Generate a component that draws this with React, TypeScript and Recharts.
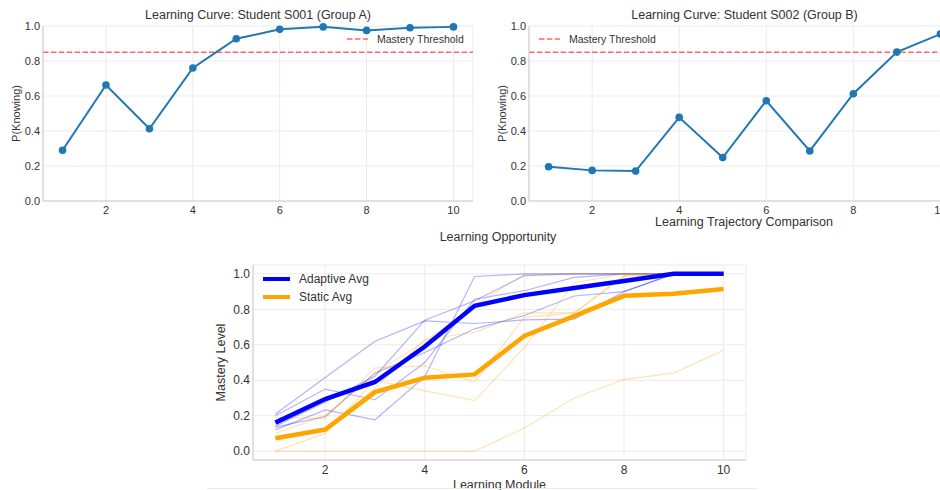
import React from "react";
import {
  LineChart,
  Line,
  XAxis,
  YAxis,
  CartesianGrid,
  ReferenceLine,
  Legend,
} from "recharts";

const FONT = '"Liberation Sans", Arial, sans-serif';
const TEXT = "#333333";
const GRID = "#ebebeb";
const FRAME = "#cccccc";
const STUDENT_BLUE = "#1f77b4";
const THRESHOLD_RED = "#ff0000";

// top panels: P(Knowing) per learning opportunity
const opportunities = [1, 2, 3, 4, 5, 6, 7, 8, 9, 10];
const s001Knowing = [0.29, 0.663, 0.413, 0.76, 0.927, 0.981, 0.995, 0.975, 0.99, 0.995];
const s002Knowing = [0.196, 0.175, 0.171, 0.478, 0.248, 0.573, 0.286, 0.613, 0.851, 0.954];
const masteryThreshold = 0.85;
const thresholdLabel = "Mastery Threshold";

const probTicks = [0, 0.2, 0.4, 0.6, 0.8, 1.0];
const stepTicks = [2, 4, 6, 8, 10];

// bottom panel: trajectory comparison
const modules = [1, 2, 3, 4, 5, 6, 7, 8, 9, 10];
const adaptiveRuns = [
  [0.21, 0.415, 0.62, 0.735, 0.72, 0.74, 0.745, 0.9, 1.0, 1.0],
  [0.12, 0.233, 0.177, 0.42, 0.985, 1.0, 1.0, 1.0, 1.0, 1.0],
  [0.2, 0.35, 0.29, 0.5, 0.857, 0.905, 0.98, 1.0, 1.0, 1.0],
  [0.135, 0.195, 0.44, 0.556, 0.69, 0.765, 0.875, 0.9, 1.0, 1.0],
  [0.14, 0.277, 0.423, 0.739, 0.848, 0.99, 1.0, 1.0, 1.0, 1.0],
];
const staticRuns = [
  [0, 0, 0, 0, 0, 0.13, 0.3, 0.405, 0.44, 0.57],
  [0.19, 0.185, 0.47, 0.48, 0.39, 0.755, 0.78, 0.99, 1.0, 1.0],
  [0, 0.1, 0.4, 0.34, 0.285, 0.585, 0.95, 1.0, 1.0, 1.0],
  [0.1, 0.2, 0.44, 0.62, 0.82, 1.0, 1.0, 1.0, 1.0, 1.0],
  [0.075, 0.125, 0.355, 0.63, 0.67, 0.78, 0.78, 0.985, 1.0, 1.0],
];
const adaptiveAvg = [0.161, 0.294, 0.39, 0.59, 0.82, 0.88, 0.92, 0.96, 1.0, 1.0];
const staticAvg = [0.073, 0.122, 0.333, 0.414, 0.433, 0.65, 0.762, 0.876, 0.888, 0.914];

const moduleRows = modules.map((m, i) => {
  const row: Record<string, number> = {
    module: m,
    adaptiveAvg: adaptiveAvg[i],
    staticAvg: staticAvg[i],
  };
  adaptiveRuns.forEach((r, k) => (row["adaptive" + k] = r[i]));
  staticRuns.forEach((r, k) => (row["static" + k] = r[i]));
  return row;
});

const fmt = (v: number) => v.toFixed(1);

function ThresholdKey() {
  return (
    <div style={{ display: "flex", alignItems: "center", fontFamily: FONT, fontSize: 10.5, color: TEXT }}>
      <svg width={22} height={6}>
        <line
          x1={0}
          x2={21}
          y1={3}
          y2={3}
          stroke={THRESHOLD_RED}
          strokeOpacity={0.6}
          strokeWidth={1.5}
          strokeDasharray="5.5 2.4"
        />
      </svg>
      <span style={{ marginLeft: 8 }}>{thresholdLabel}</span>
    </div>
  );
}

function AvgKey(props: any) {
  const items = (props.payload || []).filter((e: any) => e.type !== "none");
  return (
    <div style={{ fontFamily: FONT, fontSize: 12, color: TEXT }}>
      {items.map((e: any) => (
        <div key={e.value} style={{ display: "flex", alignItems: "center", height: 18 }}>
          <svg width={28} height={8}>
            <line x1={0} x2={27} y1={4} y2={4} stroke={e.color} strokeWidth={4} />
          </svg>
          <span style={{ marginLeft: 8 }}>{e.value}</span>
        </div>
      ))}
    </div>
  );
}

function StudentCurve({
  left,
  rightMargin,
  title,
  values,
  keyX,
}: {
  left: number;
  rightMargin: number;
  title: string;
  values: number[];
  keyX: number;
}) {
  const rows = opportunities.map((o, i) => ({ opportunity: o, pKnow: values[i] }));
  const w = 480;
  const plotLeft = 43;
  const plotW = w - rightMargin - plotLeft;
  return (
    <div style={{ position: "absolute", left, top: 0, width: w, height: 230 }}>
      <div
        style={{
          position: "absolute",
          left: plotLeft,
          width: plotW,
          top: 8,
          textAlign: "center",
          fontFamily: FONT,
          fontSize: 12.5,
          lineHeight: "15px",
          color: TEXT,
          whiteSpace: "nowrap",
        }}
      >
        {title}
      </div>
      <LineChart width={w} height={230} data={rows} margin={{ top: 26, right: rightMargin, bottom: 9, left: 10 }}>
        <CartesianGrid stroke={GRID} />
        <XAxis
          dataKey="opportunity"
          type="number"
          domain={[0.55, 10.45]}
          ticks={stepTicks}
          tickLine={false}
          tickSize={0}
          tickMargin={5}
          height={20}
          axisLine={{ stroke: FRAME }}
          tick={{ fill: TEXT, fontSize: 11, fontFamily: FONT }}
        />
        <XAxis xAxisId="frameTop" orientation="top" type="number" domain={[0.55, 10.45]} height={0} tick={false} tickLine={false} axisLine={{ stroke: FRAME }} />
        <YAxis
          type="number"
          domain={[0, 1]}
          ticks={probTicks}
          tickFormatter={fmt}
          tickLine={false}
          tickSize={0}
          tickMargin={3}
          width={33}
          axisLine={{ stroke: FRAME }}
          tick={{ fill: TEXT, fontSize: 11, fontFamily: FONT }}
          label={{
            value: "P(Knowing)",
            angle: -90,
            position: "insideLeft",
            offset: 6,
            style: { textAnchor: "middle", fill: TEXT, fontSize: 11, fontFamily: FONT },
          }}
        />
        <YAxis yAxisId="frameRight" orientation="right" domain={[0, 1]} width={0} tick={false} tickLine={false} axisLine={{ stroke: FRAME }} />
        <ReferenceLine
          y={masteryThreshold}
          stroke={THRESHOLD_RED}
          strokeOpacity={0.6}
          strokeWidth={1.5}
          strokeDasharray="5.5 2.4"
        />
        <Line
          dataKey="pKnow"
          stroke={STUDENT_BLUE}
          strokeWidth={2}
          dot={{ r: 3.8, fill: STUDENT_BLUE, stroke: STUDENT_BLUE, strokeWidth: 0 }}
          activeDot={false}
          isAnimationActive={false}
        />
        <Legend
          layout="vertical"
          align="center"
          verticalAlign="middle"
          wrapperStyle={{ left: keyX, top: 33, width: "auto", height: "auto" }}
          content={() => <ThresholdKey />}
        />
      </LineChart>
    </div>
  );
}

function TrajectoryComparison() {
  return (
    <div style={{ position: "absolute", left: 205, top: 252, width: 550, height: 238 }}>
      <LineChart width={550} height={238} data={moduleRows} margin={{ top: 13, right: 9, bottom: 10, left: 10 }}>
        <CartesianGrid stroke={GRID} />
        <XAxis
          dataKey="module"
          type="number"
          domain={[0.55, 10.45]}
          ticks={stepTicks}
          tickLine={false}
          tickSize={0}
          tickMargin={5}
          height={20}
          axisLine={{ stroke: FRAME }}
          tick={{ fill: TEXT, fontSize: 12, fontFamily: FONT }}
          label={{
            value: "Learning Module",
            position: "bottom",
            offset: 0,
            style: { fill: TEXT, fontSize: 12.5, fontFamily: FONT },
          }}
        />
        <XAxis xAxisId="frameTop" orientation="top" type="number" domain={[0.55, 10.45]} height={0} tick={false} tickLine={false} axisLine={{ stroke: FRAME }} />
        <YAxis
          type="number"
          domain={[-0.05, 1.05]}
          ticks={probTicks}
          tickFormatter={fmt}
          tickLine={false}
          tickSize={0}
          tickMargin={3}
          width={38}
          axisLine={{ stroke: FRAME }}
          tick={{ fill: TEXT, fontSize: 12, fontFamily: FONT }}
          label={{
            value: "Mastery Level",
            angle: -90,
            position: "insideLeft",
            offset: 6,
            style: { textAnchor: "middle", fill: TEXT, fontSize: 12.5, fontFamily: FONT },
          }}
        />
        <YAxis yAxisId="frameRight" orientation="right" domain={[0, 1]} width={0} tick={false} tickLine={false} axisLine={{ stroke: FRAME }} />
        {adaptiveRuns.map((_, k) => (
          <Line
            key={"a" + k}
            dataKey={"adaptive" + k}
            stroke="#0000ff"
            strokeOpacity={0.3}
            strokeWidth={1.2}
            dot={false}
            activeDot={false}
            legendType="none"
            isAnimationActive={false}
          />
        ))}
        {staticRuns.map((_, k) => (
          <Line
            key={"s" + k}
            dataKey={"static" + k}
            stroke="#ffa500"
            strokeOpacity={0.3}
            strokeWidth={1.2}
            dot={false}
            activeDot={false}
            legendType="none"
            isAnimationActive={false}
          />
        ))}
        <Line
          dataKey="adaptiveAvg"
          name="Adaptive Avg"
          stroke="#0000ff"
          strokeWidth={4.5}
          dot={false}
          activeDot={false}
          isAnimationActive={false}
        />
        <Line
          dataKey="staticAvg"
          name="Static Avg"
          stroke="#ffa500"
          strokeWidth={4.5}
          dot={false}
          activeDot={false}
          isAnimationActive={false}
        />
        <Legend
          layout="vertical"
          align="center"
          verticalAlign="middle"
          wrapperStyle={{ left: 58, top: 18, width: "auto", height: "auto" }}
          content={(p: any) => <AvgKey {...p} />}
        />
      </LineChart>
    </div>
  );
}

const floatLabel = (x: number, y: number): React.CSSProperties => ({
  position: "absolute",
  left: x,
  top: y,
  transform: "translate(-50%, -50%)",
  fontFamily: FONT,
  fontSize: 12.5,
  color: TEXT,
  whiteSpace: "nowrap",
});

export default function App() {
  return (
    <div
      style={{
        position: "fixed",
        left: 0,
        top: 0,
        width: 940,
        height: 490,
        overflow: "hidden",
        background: "#ffffff",
      }}
    >
      <StudentCurve left={0} rightMargin={7} title="Learning Curve: Student S001 (Group A)" values={s001Knowing} keyX={347} />
      <StudentCurve left={486} rightMargin={6} title="Learning Curve: Student S002 (Group B)" values={s002Knowing} keyX={53} />
      <div style={floatLabel(744, 222)}>Learning Trajectory Comparison</div>
      <div style={floatLabel(498, 237)}>Learning Opportunity</div>
      <TrajectoryComparison />
      <div style={{ position: "absolute", left: 207, top: 488, width: 550, borderTop: "1px solid #ececec" }} />
    </div>
  );
}
